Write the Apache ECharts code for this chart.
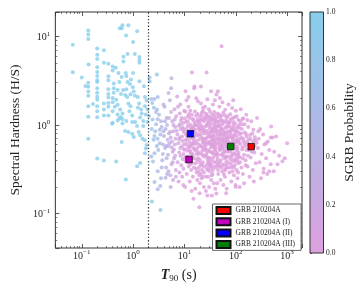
<!DOCTYPE html>
<html><head><meta charset="utf-8">
<script src="https://cdn.jsdelivr.net/npm/echarts@6/dist/echarts.min.js"></script>
<style>html,body{margin:0;padding:0;background:#fff}#c{width:360px;height:288px}</style>
</head><body><div id="c"></div>
<script>
// [T90 (s), hardness ratio, SGRB probability]
const shortBursts = [
[0.62,13.3,1],[0.60,12.3,1],[0.55,12.3,1],[0.81,13.3,1],
[0.134,11.6,1],[0.134,10.5,1],[0.134,9.3,1],[1.20,11.4,0.97],[0.73,10.2,1],
[0.067,8.05,1],[1.0,8.63,1],[0.20,7.28,1],[0.20,6.2,1],[0.20,5.56,1],[0.27,6.98,1],
[0.78,6.31,1],[1.08,6.31,0.98],[0.65,5.89,1],[0.65,5.19,1],[1.33,5.85,0.97],[1.33,5.42,0.97],[1.33,5.02,0.97],
[0.136,4.81,1],[0.27,5.02,1],[0.33,4.89,1],[0.40,4.55,1],[0.40,4.12,1],[0.46,4.42,1],
[0.20,4.49,1],[0.20,3.95,1],[0.20,3.57,1],[0.20,3.2,1],[0.20,3.06,1],
[0.067,3.92,1],[0.10,3.43,1],[0.52,3.85,1],[0.72,3.85,1],[0.74,3.57,1],[0.60,3.48,1],[1.0,3.85,1],
[0.33,3.54,1],[0.33,3.2,1],[2.9,3.7,0.85],
[0.134,2.99,1],[0.134,2.7,1],[0.134,2.38,1],[0.134,2.13,1],[0.118,2.75,1],
[0.54,3.06,1],[0.78,3.06,1],[0.91,3.26,1],[0.87,2.89,1],[1.33,3.12,0.97],
[0.42,2.94,1],[0.42,2.59,1],[0.42,2.31,1],
[0.20,2.59,1],[0.20,2.31,1],[0.20,2.08,1],[0.20,1.92,1],
[0.33,2.52,1],[0.33,2.24,1],[0.33,2.04,1],
[0.50,2.48,1],[0.64,2.48,1],[0.74,2.52,1],[0.99,2.66,1],[1.03,2.38,1],[0.58,2.24,1],[0.70,2.17,1],[0.89,2.22,1],[1.08,2.13,0.98],
[1.63,2.74,0.95],
[0.134,1.62,1],[0.134,1.24,1],[0.166,1.72,1],
[0.20,1.62,1],[0.20,1.43,1],[0.20,1.22,1],
[0.27,1.74,1],[0.27,1.49,1],[0.27,1.28,1],
[0.33,1.77,1],[0.33,1.6,1],[0.33,1.28,1],
[0.40,2.01,1],[0.40,1.8,1],[0.44,1.6,1],[0.40,1.43,1],[0.40,1.06,1],
[0.47,1.92,1],[0.50,1.69,1],[0.56,1.49,1],[0.62,1.35,1],[0.50,1.31,1],[0.54,1.18,1],[0.62,1.16,1],
[0.77,2.06,1],[0.81,1.74,1],[0.89,1.62,1],[0.85,1.43,1],[0.96,1.28,1],[0.74,1.11,1],[0.96,1.08,1],
[1.24,2.06,0.97],[1.31,1.74,0.97],[1.24,1.56,0.97],[1.43,1.49,0.96],[1.47,1.35,0.96],[1.37,1.21,0.96],[1.58,1.11,0.95],[1.58,0.97,0.95],
[1.70,2.06,0.93],[1.83,1.89,0.92],[1.70,1.62,0.93],[1.91,1.49,0.9],[1.77,1.31,0.92],
[2.27,1.96,0.75],[2.36,1.77,0.72],[2.61,1.96,0.68],[3.02,2.06,0.6],[2.54,1.56,0.7],[2.93,1.49,0.62],
[3.02,1.16,0.55],[2.81,1.02,0.6],[2.05,1.26,0.85],[1.91,1.08,0.88],[1.10,1.08,0.98],[1.19,0.975,0.97],
[0.39,1.03,1],[0.50,1.12,1],[0.58,1.22,1],[0.62,1.04,1],
[0.70,0.852,1],[0.81,0.831,1],[0.96,0.795,1],[1.03,0.731,0.98],
[0.134,0.70,1],[0.60,0.644,1],
[1.28,0.831,0.96],[1.37,0.764,0.95],[1.52,0.70,0.94],
[1.70,0.673,0.92],[1.83,0.592,0.9],[1.77,0.543,0.9],
[0.20,0.418,1],[0.27,0.397,1],[0.47,0.387,1],
[1.70,0.478,0.9],[1.37,0.371,0.95],[1.20,0.341,0.96],[0.72,0.243,1],
[2.33,0.137,0.95],[3.41,0.11,0.9],
[2.27,0.44,0.72],[2.44,0.387,0.68],[2.61,0.478,0.65],
[3.02,0.30,0.55],[2.61,0.227,0.62],[3.38,0.205,0.45],[3.02,0.188,0.5],[4.3,0.253,0.35],
[2.1,3.43,0.88],[2.1,3.1,0.88],[5.6,3.37,0.45]
];
const transitionBursts = [
[5.2,1.9,0.25],[5.5,1.4,0.22],[5.8,1.1,0.2],[6.1,0.85,0.18],[5.4,0.72,0.23],[6.5,0.6,0.15],[5.9,0.5,0.2],[6.3,0.42,0.17],[5.6,0.36,0.22],[6.8,0.31,0.13],[5.3,0.27,0.25],[6.0,0.24,0.19],[6.6,0.95,0.15],[6.9,1.25,0.13],[5.1,0.62,0.26],
[4.1,1.6,0.42],[4.5,1.2,0.38],[4.3,0.9,0.4],[4.7,0.68,0.34],[4.2,0.55,0.41],[4.8,0.46,0.32],[4.4,0.33,0.38],[4.9,2.3,0.3],[4.6,0.28,0.35],
[3.2,1.3,0.58],[3.6,0.95,0.52],[3.4,0.78,0.55],[3.8,0.6,0.48],[3.1,0.52,0.58],[3.7,0.4,0.5],[3.3,0.88,0.56],[3.9,1.7,0.46],[3.5,0.25,0.53],
[2.4,1.15,0.75],[2.7,0.85,0.7],[2.5,0.68,0.72],[2.9,0.58,0.64],[2.3,0.9,0.78],[2.8,1.4,0.66],
[2.6,0.75,0.7],[3.0,0.7,0.62],[3.5,1.1,0.52],[4.0,0.75,0.44],[4.6,1.0,0.36],[5.0,0.8,0.3],[5.7,0.65,0.22],[6.2,0.53,0.18],[4.4,0.58,0.4],[3.8,0.47,0.47],[6.4,1.5,0.16],[5.5,2.6,0.24],
[6.1,1.0,0.17],[5.3,0.84,0.24],[6.7,0.7,0.14],[4.8,0.58,0.32],[5.9,0.38,0.2],[6.6,0.45,0.15],[4.5,0.42,0.38],[3.3,0.62,0.55],[3.9,0.85,0.46],[5.0,1.2,0.3],[4.2,1.1,0.42],[6.5,1.15,0.15],[5.6,0.56,0.22],[3.6,0.33,0.5],[4.9,0.3,0.31],[6.8,0.26,0.13],[5.4,0.2,0.24]
];
const longBursts = [
[7.2,2.1,0.1],[7.5,1.6,0.1],[8.1,1.35,0.08],[8.8,1.2,0.07],[9.4,1.05,0.06],[7.8,0.98,0.09],[8.5,0.9,0.08],[9.7,0.83,0.05],[7.3,0.78,0.1],[8.2,0.72,0.08],[9.1,0.66,0.06],[7.6,0.62,0.09],[8.9,0.57,0.07],[9.8,0.53,0.05],[7.9,0.49,0.09],[8.4,0.45,0.08],[9.3,0.41,0.06],[7.4,0.38,0.1],[8.7,0.35,0.07],[9.6,0.32,0.05],[8.0,0.29,0.08],[9.0,0.26,0.06],[7.7,0.23,0.09],[9.5,0.21,0.05],[8.3,1.7,0.08],[9.9,1.45,0.05],
[7.1,0.86,0.1],[7.9,0.69,0.09],[8.3,0.55,0.08],[9.6,0.47,0.05],[8.6,1.12,0.07],[9.2,0.94,0.06],[9.0,0.74,0.06],[8.2,1.02,0.08],[9.5,0.88,0.05],[9.8,0.6,0.05],
[10.5,2.4,0],[11,1.9,0],[12,1.6,0],[13,1.45,0],[14,1.3,0],[10.2,1.18,0],[11.5,1.1,0],[12.8,1.02,0],[14.5,0.96,0],[10.8,0.9,0],[12.2,0.85,0],[13.6,0.8,0],[11.2,0.75,0],[14.8,0.71,0],[10.4,0.67,0],[12.5,0.64,0],[13.9,0.6,0],[11.8,0.56,0],[10.1,0.53,0],[13.2,0.5,0],[14.3,0.47,0],[11.4,0.44,0],[12.9,0.42,0],[10.7,0.39,0],[14.1,0.37,0],[12.1,0.34,0],[13.5,0.31,0],[11.1,0.28,0],[14.6,0.26,0],[12.7,0.23,0],[10.3,0.2,0],[13.8,0.18,0],[11.7,1.25,0],[13.1,0.93,0],[14.9,0.55,0],
[15.5,2.6,0],[17,2.0,0],[21,2.72,0],[21,1.75,0],[23,1.55,0],[16,1.42,0],[18,1.33,0],[20,1.24,0],[22,1.16,0],[24,1.1,0],[15.8,1.04,0],[17.5,0.99,0],[19.5,0.94,0],[21.5,0.89,0],[23.5,0.85,0],[16.5,0.81,0],[18.5,0.78,0],[20.5,0.74,0],[22.5,0.71,0],[24.5,0.68,0],[15.2,0.65,0],[17.2,0.62,0],[19.2,0.6,0],[21.2,0.57,0],[23.2,0.55,0],[16.2,0.52,0],[18.2,0.5,0],[20.2,0.48,0],[22.2,0.46,0],[24.2,0.44,0],[15.6,0.42,0],[17.6,0.4,0],[19.6,0.38,0],[21.6,0.36,0],[23.6,0.34,0],[16.8,0.32,0],[18.8,0.3,0],[20.8,0.28,0],[22.8,0.26,0],[17.9,0.24,0],[20.1,0.22,0],[23.9,0.2,0],[19.8,0.17,0],[16.3,0.19,0],[21.9,1.38,0],[18.3,1.85,0],[24.8,0.63,0],[15.1,0.92,0],
[27,3.9,0],[33,2.4,0],[28,1.95,0],[36,1.7,0],[30,1.5,0],[38,1.4,0],[27,1.3,0],[32,1.22,0],[35,1.15,0],[29,1.08,0],[39,1.02,0],[26.5,0.97,0],[31,0.93,0],[34,0.88,0],[37,0.84,0],[27.5,0.8,0],[30.5,0.77,0],[33.5,0.73,0],[36.5,0.7,0],[39.5,0.67,0],[28.5,0.64,0],[31.5,0.61,0],[34.5,0.59,0],[37.5,0.56,0],[25.5,0.54,0],[29.5,0.52,0],[32.5,0.5,0],[35.5,0.48,0],[38.5,0.46,0],[26.8,0.44,0],[30.8,0.42,0],[34.8,0.4,0],[28.8,0.38,0],[32.8,0.36,0],[36.8,0.34,0],[27.2,0.32,0],[31.2,0.3,0],[35.2,0.28,0],[29.2,0.26,0],[33.2,0.24,0],[37.2,0.22,0],[30.2,0.2,0],[26.2,0.18,0],[34.1,0.16,0],[39.2,1.9,0],[25.2,1.6,0],
[53,7.7,0],[42,2.2,0],[55,1.8,0],[48,1.6,0],[62,1.48,0],[44,1.35,0],[52,1.27,0],[66,1.2,0],[41,1.12,0],[58,1.06,0],[47,1.0,0],[69,0.95,0],[54,0.9,0],[43,0.86,0],[61,0.82,0],[50,0.78,0],[67,0.74,0],[46,0.7,0],[57,0.67,0],[64,0.64,0],[41.5,0.61,0],[53,0.58,0],[68,0.55,0],[49,0.52,0],[60,0.5,0],[44.5,0.47,0],[56,0.45,0],[65,0.43,0],[51,0.4,0],[42.5,0.38,0],[59,0.36,0],[47.5,0.34,0],[63,0.32,0],[54.5,0.3,0],[45.5,0.28,0],[61.5,0.26,0],[50.5,0.24,0],[57.5,0.21,0],[66.5,0.19,0],[43.5,0.22,0],
[72,1.7,0],[85,1.55,0],[100,1.45,0],[78,1.32,0],[95,1.22,0],[112,1.14,0],[74,1.06,0],[90,1.0,0],[106,0.94,0],[81,0.88,0],[98,0.83,0],[118,0.79,0],[76,0.75,0],[88,0.71,0],[103,0.67,0],[115,0.63,0],[83,0.6,0],[93,0.57,0],[109,0.54,0],[71,0.51,0],[87,0.48,0],[101,0.46,0],[116,0.44,0],[79,0.41,0],[96,0.39,0],[111,0.37,0],[84,0.34,0],[104,0.31,0],[75,0.29,0],[92,0.27,0],[108,0.25,0],[82,0.23,0],[99,0.21,0],[119,0.2,0],[89,1.9,0],
[125,1.5,0],[160,1.3,0],[140,1.18,0],[200,1.1,0],[130,1.02,0],[175,0.95,0],[220,0.88,0],[150,0.82,0],[190,0.77,0],[128,0.72,0],[240,0.68,0],[165,0.64,0],[210,0.6,0],[135,0.56,0],[180,0.52,0],[230,0.49,0],[145,0.46,0],[195,0.43,0],[155,0.4,0],[245,0.37,0],[170,0.34,0],[215,0.31,0],[138,0.28,0],[185,0.26,0],[225,0.23,0],[145,0.22,0],
[260,1.2,0],[300,0.9,0],[340,0.78,0],[280,0.7,0],[420,0.65,0],[360,0.6,0],[270,0.55,0],[450,0.52,0],[320,0.47,0],[390,0.42,0],[290,0.38,0],[480,0.36,0],[350,0.32,0],[410,0.28,0],[310,0.25,0],[345,0.29,0],[450,0.3,0],[490,0.96,0],[480,0.72,0],[390,0.62,0],
[520,0.72,0],[610,0.74,0],[560,0.5,0],[700,0.45,0],[650,0.36,0],[810,0.39,0],[550,0.3,0],[900,0.42,0],[1000,0.62,0],
[14,3.9,0],[15.7,2.72,0],[45,2.4,0],[49,2.02,0],[12,2.06,0],[15,0.147,0],[19.5,0.118,0],[28,0.16,0],[42,0.168,0],[65,0.17,0],[40,0.19,0],[100,0.2,0],
[10.6,0.79,0],[11.3,0.69,0],[12.4,0.58,0],[13.3,0.48,0],[14.2,0.82,0],[15.4,0.73,0],[16.7,0.66,0],[17.8,0.55,0],[18.7,0.47,0],[19.9,0.41,0],[20.9,0.35,0],[22.1,0.31,0],[23.3,0.93,0],[24.4,0.8,0],[25.8,0.7,0],[27.1,0.6,0],[28.3,0.5,0],[29.8,0.43,0],[31.3,0.37,0],[32.6,0.33,0],[33.9,1.05,0],[35.3,0.9,0],[36.9,0.76,0],[38.1,0.63,0],[40.3,0.54,0],[42.1,0.47,0],[44.2,0.41,0],[46.3,0.36,0],[48.3,1.1,0],[50.2,0.95,0],[52.4,0.81,0],[55.1,0.69,0],[57.2,0.59,0],[60.1,0.51,0],[63.4,0.44,0],[66.2,0.39,0],[69.3,0.85,0],[72.4,0.73,0],[76.2,0.62,0],[80.1,0.53,0],[84.3,0.45,0],[88.2,0.4,0],[92.4,0.92,0],[97.3,0.78,0],[102,0.66,0],[107,0.57,0],[113,0.49,0],[118,0.43,0],
[10.9,0.61,0],[12.6,0.52,0],[14.4,0.45,0],[16.1,0.88,0],[17.4,0.76,0],[19.1,0.68,0],[20.6,0.58,0],[22.4,0.51,0],[23.8,0.45,0],[25.1,1.15,0],[26.7,0.99,0],[28.1,0.86,0],[29.6,0.74,0],[31.8,0.65,0],[33.1,0.56,0],[34.6,0.49,0],[36.2,0.43,0],[37.8,1.28,0],[39.6,1.09,0],[41.2,0.92,0],[43.8,0.79,0],[45.9,0.68,0],[47.8,0.6,0],[49.7,0.53,0],[51.8,0.46,0],[54.2,1.02,0],[56.6,0.87,0],[58.9,0.75,0],[61.7,0.66,0],[64.9,0.57,0],[67.8,0.5,0],[70.6,0.44,0],[74.1,0.97,0],[77.8,0.84,0],[81.7,0.72,0],[85.9,0.63,0],[90.8,0.55,0],[95.1,0.48,0],[99.8,0.42,0],
[11.6,0.97,0],[13.7,0.88,0],[15.9,0.61,0],[18.1,1.15,0],[20.3,1.02,0],[22.7,0.64,0],[24.9,0.57,0],[27.6,1.2,0],[30.1,1.12,0],[32.2,0.82,0],[34.4,0.69,0],[36.6,0.6,0],[38.9,0.52,0],[41.7,0.73,0],[44.9,0.63,0],[47.1,0.85,0],[50.8,0.71,0],[53.6,0.62,0],[56.1,0.55,0],[59.8,0.79,0],[62.6,0.7,0],[65.7,0.6,0],[68.5,1.08,0],[73.2,0.64,0],[78.9,0.58,0],[83.1,0.77,0],[87.4,0.68,0],[93.7,0.61,0],[98.6,0.55,0],[105,0.74,0],[110,0.84,0],[117,0.69,0],[124,0.61,0],[133,0.53,0],[142,0.66,0],[152,0.58,0],[163,0.74,0],[178,0.68,0],[188,0.56,0],[205,0.5,0],[218,0.66,0],[233,0.58,0],
[10.3,0.43,0],[12.9,0.36,0],[15.3,0.33,0],[17.3,0.29,0],[19.4,0.27,0],[21.7,0.25,0],[24.1,0.29,0],[26.4,0.26,0],[28.7,0.31,0],[31.1,0.34,0],[35.8,0.31,0],[40.7,0.33,0],[45.2,0.31,0],[52.9,0.33,0],[58.4,0.28,0],[64.1,0.35,0],[71.3,0.37,0],[77.2,0.33,0],[86.1,0.3,0],[94.6,0.35,0],[106,0.4,0],[121,0.38,0],[137,0.42,0],[156,0.35,0],[172,0.45,0],
[10.4,1.42,0],[12.3,1.33,0],[14.7,1.17,0],[16.9,1.27,0],[19.3,1.08,0],[21.3,1.3,0],[23.1,1.44,0],[26.1,1.35,0],[29.1,1.25,0],[31.7,1.4,0],[35.1,1.3,0],[38.6,1.18,0],[43.1,1.22,0],[46.8,1.3,0],[51.2,1.15,0],[56.9,1.37,0],[63.1,1.1,0],[70.2,1.25,0],[79.3,1.15,0],[91.1,1.08,0],[104,1.25,0],[122,1.1,0],[148,1.02,0],[168,1.14,0],
[10.8,1.08,0],[11.9,0.83,0],[13.4,0.71,0],[14.6,0.62,0],[15.9,0.53,0],[17.1,0.47,0],[18.4,0.42,0],[19.7,0.86,0],[21.1,0.79,0],[22.6,0.69,0],[23.9,0.62,0],[25.3,0.52,0],[26.8,0.47,0],[28.2,0.41,0],[29.9,0.36,0],[31.6,0.98,0],[33.4,0.83,0],[35.4,0.75,0],[37.3,0.66,0],[39.4,0.58,0],[41.3,0.5,0],[43.4,0.44,0],[45.6,0.97,0],[48.1,0.77,0],[50.6,0.66,0],[53.3,0.55,0],[56.4,0.48,0],[59.3,0.42,0],[62.3,0.93,0],[65.4,0.8,0],[68.8,0.69,0],[72.8,0.57,0],[76.9,0.5,0],[81.3,0.44,0],[86.8,0.87,0],[91.9,0.75,0],[97.8,0.63,0],[103,0.52,0],[110,0.46,0],[116,0.93,0],[127,0.8,0],[139,0.7,0],[149,0.62,0],[161,0.52,0],[176,0.6,0],[192,0.7,0],[210,0.8,0],[235,0.73,0],[255,0.63,0],[275,0.85,0],
[11.4,0.51,0],[13.1,0.58,0],[14.9,0.86,0],[16.4,0.99,0],[18.9,0.91,0],[21.9,0.96,0],[24.6,0.87,0],[27.9,0.72,0],[30.6,0.63,0],[33.7,0.61,0],[37.1,0.92,0],[40.1,0.83,0],[43.6,0.96,0],[47.4,0.56,0],[51.4,0.88,0],[55.7,0.77,0],[60.6,0.65,0],[66.9,0.71,0],[74.8,0.82,0],[82.6,0.93,0],[89.6,0.59,0],[101,0.86,0],[113,0.66,0],[131,0.9,0],[158,0.79,0],
[12.8,1.2,0],[15,1.12,0],[17.7,1.09,0],[20.7,1.13,0],[24.3,1.22,0],[28.6,1.03,0],[33.3,1.16,0],[38.3,0.97,0],[44,1.08,0],[49.3,1.24,0],[55.5,1.11,0],[61.1,1.29,0],[67.5,0.98,0],[76.6,1.07,0],[86.5,1.19,0],[96.5,1.03,0],[115,1.0,0],[135,1.17,0],
[11.5,0.38,0],[13.9,0.41,0],[16.5,0.37,0],[19.2,0.33,0],[22.9,0.38,0],[26.9,0.35,0],[30.4,0.39,0],[34.2,0.27,0],[38.4,0.38,0],[43.2,0.35,0],[48.9,0.38,0],[55.2,0.35,0],[62.1,0.31,0],[69.7,0.33,0],[80.4,0.37,0],[91.5,0.33,0],[111,0.29,0],[129,0.33,0]
];
const grbNames = ['GRB 210204A','GRB 210204A (I)','GRB 210204A (II)','GRB 210204A (III)'];
const grbT90 = [200, 12.3, 13.1, 79.6];
const grbHR = [0.57, 0.408, 0.795, 0.571];
const grbColors = ['#ff0000','#bf00bf','#0000ff','#008000'];
const probColors = ['#DDA0DD','#87CEEB'];
const t90Divide = 2;

const F = 'Liberation Serif';
const INK = '#222';
function pow10Label(v){
  const e = Math.log10(v), r = Math.round(e);
  if (Math.abs(e - r) > 1e-6) return '';
  return '{b|10}{s|' + (r < 0 ? '\u2212' + (-r) : r) + '}';
}
const tickRich = {
  b:{fontSize:10,fontFamily:F,lineHeight:12,verticalAlign:'bottom',color:INK},
  s:{fontSize:7,fontFamily:F,lineHeight:7,verticalAlign:'top',color:INK}
};
function logAxis(extra){
  return Object.assign({
    type:'log', logBase:10, gridIndex:0,
    axisLine:{show:false},
    axisTick:{show:true,inside:true,length:4,lineStyle:{color:'#333',width:0.8}},
    minorTick:{show:true,splitNumber:9,length:2,lineStyle:{color:'#333',width:0.6}},
    splitLine:{show:false}, minorSplitLine:{show:false}
  }, extra);
}
const X = {min:0.0306, max:1950};
const Y = {min:0.0409, max:18.8};

const chart = echarts.init(document.getElementById('c'), null, {renderer:'canvas'});
const DOT = 4;
const series = [
  {type:'scatter', name:'long', xAxisIndex:0, yAxisIndex:0, data:longBursts, symbolSize:DOT, z:2},
  {type:'scatter', name:'mid', xAxisIndex:0, yAxisIndex:0, data:transitionBursts, symbolSize:DOT, z:2},
  {type:'scatter', name:'short', xAxisIndex:0, yAxisIndex:0, data:shortBursts, symbolSize:DOT, z:2,
    markLine:{silent:true, symbol:'none', label:{show:false}, animation:false,
      lineStyle:{color:'#333', width:1.2, type:[1.3,2]}, data:[{xAxis:t90Divide}]}}
];
grbNames.forEach((n,i)=>{
  series.push({type:'scatter', name:n, xAxisIndex:0, yAxisIndex:0, symbol:'rect', symbolSize:6.5, z:5,
    itemStyle:{color:grbColors[i], borderColor:'#111', borderWidth:0.8, opacity:1},
    data:[[grbT90[i], grbHR[i]]]});
});

chart.setOption({
  animation:false,
  backgroundColor:'#fff',
  textStyle:{fontFamily:F},
  grid:[
    {left:45, top:12, width:257, height:241, show:true, borderColor:'#333', borderWidth:1, backgroundColor:'transparent', containLabel:false},
    {left:310, top:12, width:13.5, height:241, show:true, borderColor:'#333', borderWidth:1, z:10,
      backgroundColor:new echarts.graphic.LinearGradient(0,0,0,1,[{offset:0,color:probColors[1]},{offset:1,color:probColors[0]}])}
  ],
  xAxis:[
    logAxis(Object.assign({position:'bottom',
      axisLabel:{formatter:pow10Label, rich:tickRich, margin:1, showMinLabel:false, showMaxLabel:false},
      name:'{t|T}{sub|90}{n| (s)}', nameLocation:'middle', nameGap:19,
      nameTextStyle:{rich:{
        t:{fontSize:14,fontFamily:F,fontStyle:'italic',fontWeight:'bold',color:INK,lineHeight:16,verticalAlign:'middle'},
        sub:{fontSize:9,fontFamily:F,color:INK,lineHeight:9,verticalAlign:'bottom'},
        n:{fontSize:14,fontFamily:F,color:INK,lineHeight:16,verticalAlign:'middle'}}}}, X)),
    logAxis(Object.assign({position:'top', axisLabel:{show:false}}, X)),
    {gridIndex:1, type:'value', show:false, min:0, max:1}
  ],
  yAxis:[
    logAxis(Object.assign({position:'left',
      axisLabel:{formatter:pow10Label, rich:tickRich, margin:5, showMinLabel:false, showMaxLabel:false},
      name:'Spectral Hardness (H/S)', nameLocation:'middle', nameGap:31,
      nameTextStyle:{fontSize:13.5, fontFamily:F, color:INK}}, Y)),
    logAxis(Object.assign({position:'right', axisLabel:{show:false}}, Y)),
    {gridIndex:1, type:'value', min:0, max:1, interval:0.2, position:'right',
      axisLine:{show:false}, splitLine:{show:false},
      axisTick:{show:true, length:2, lineStyle:{color:'#333', width:0.8}},
      axisLabel:{fontSize:7.5, fontFamily:F, color:INK, margin:2.5, formatter:v=>v.toFixed(1)},
      name:'SGRB Probability', nameLocation:'middle', nameRotate:90, nameGap:19,
      nameTextStyle:{fontSize:13.5, fontFamily:F, color:INK}}
  ],
  visualMap:{type:'continuous', show:false, min:0, max:1, dimension:2, seriesIndex:[0,1,2],
    inRange:{color:probColors}},
  legend:{data:grbNames, orient:'vertical', left:212.5, top:204, padding:[2,6,1.5,3],
    itemGap:2.3, itemWidth:14, itemHeight:7, borderColor:'#444', borderWidth:0.8, borderRadius:0,
    backgroundColor:'#fff', textStyle:{fontSize:7.5, fontFamily:F, color:INK, lineHeight:9}},
  series
});
</script></body></html>
